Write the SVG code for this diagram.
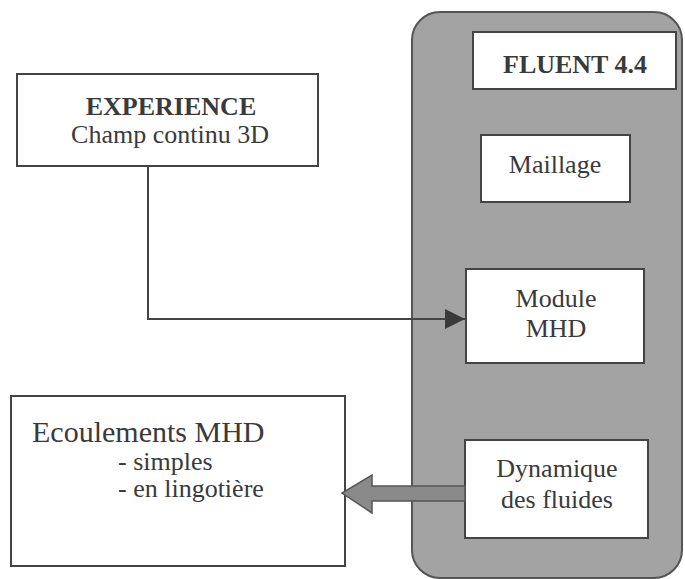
<svg xmlns="http://www.w3.org/2000/svg" width="685" height="579" viewBox="0 0 685 579">
<style>
.box{fill:#ffffff;stroke:#444;stroke-width:2}
.t{font-family:"Liberation Serif","DejaVu Serif",serif;font-size:26px;fill:#3a3a3a;text-anchor:middle}
.b{font-weight:bold}
.g{font-family:"Liberation Serif","DejaVu Serif",serif;fill:#3a3a3a}
</style>
<defs>
<marker id="ah" markerWidth="20" markerHeight="20" refX="20" refY="10" orient="auto" markerUnits="userSpaceOnUse">
<path d="M0,0 L20,10 L0,20 Z" fill="#3a3a3a"/>
</marker>
</defs>
<g id="fluent-panel">
<rect x="412" y="12" width="270" height="566" rx="28" ry="28" fill="#a3a3a3" stroke="#555" stroke-width="2"/>
</g>
<g id="fluent">
<rect class="box" x="473" y="32" width="203" height="57"/>
<text class="t b" x="575" y="73">FLUENT 4.4</text>
</g>
<g id="maillage">
<rect class="box" x="481" y="135" width="149" height="67"/>
<text class="t" x="555" y="173">Maillage</text>
</g>
<g id="module">
<rect class="box" x="466" y="269" width="178" height="94"/>
<text class="t" x="556" y="307">Module</text>
<text class="t" x="556" y="337">MHD</text>
</g>
<g id="dynamique">
<rect class="box" x="465" y="440" width="183" height="98"/>
<text class="t" x="557" y="477">Dynamique</text>
<text class="t" x="557" y="508">des fluides</text>
</g>
<g id="experience">
<rect class="box" x="17" y="74" width="301" height="92"/>
<text class="t b" x="171" y="115">EXPERIENCE</text>
<text class="t" x="170" y="143">Champ continu 3D</text>
</g>
<g id="ecoulements">
<rect class="box" x="11" y="396" width="334" height="170"/>
<text class="g" x="32" y="442" font-size="30">Ecoulements MHD</text>
<text class="g" x="118" y="470" font-size="26">- simples</text>
<text class="g" x="118" y="497" font-size="26">- en lingotière</text>
</g>
<g id="connectors">
<path d="M148,166 L148,319 L465,319" fill="none" stroke="#444" stroke-width="2" marker-end="url(#ah)"/>
<path d="M465,486 L372,486 L372,475 L342,493 L372,513 L372,501 L465,501 Z" fill="#8a8a8a" stroke="#555" stroke-width="1.5"/>
</g>
</svg>
